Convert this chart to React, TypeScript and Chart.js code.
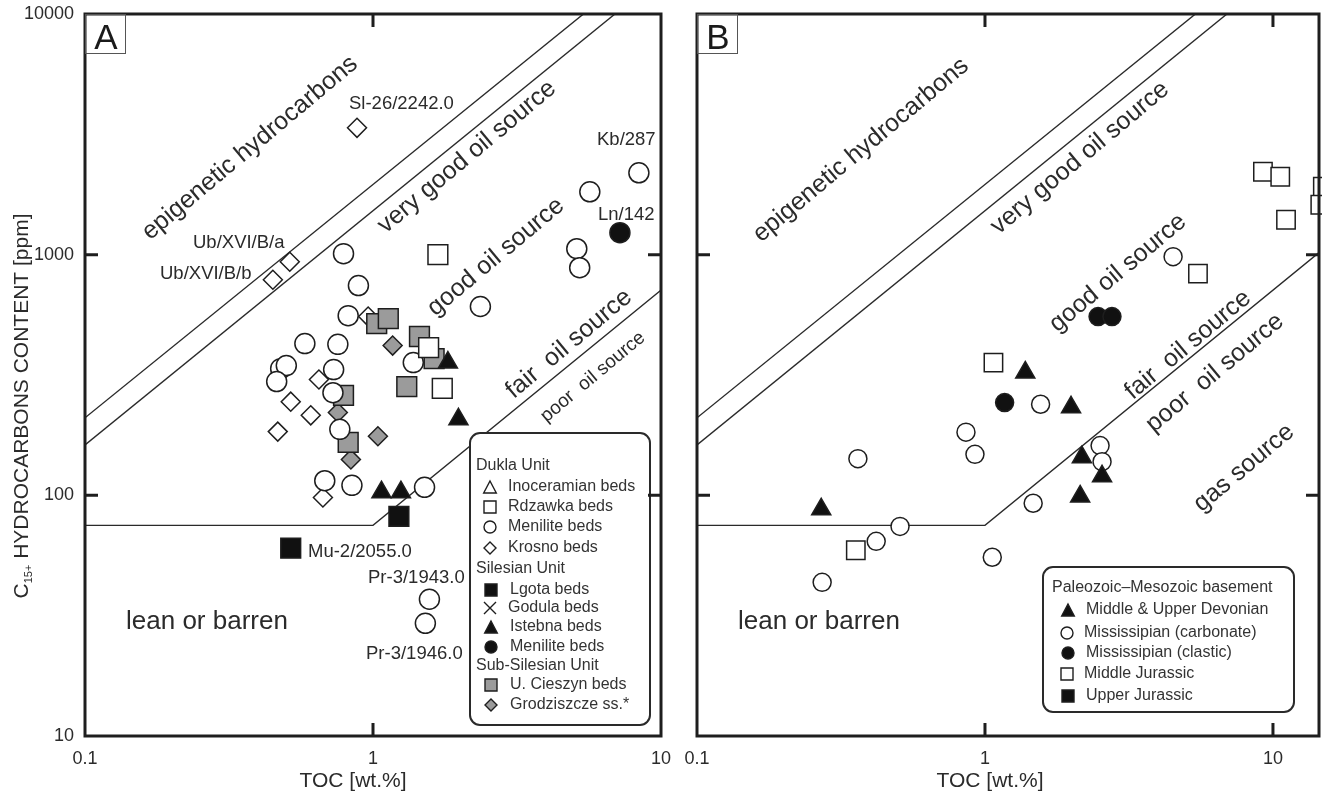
import React, { useEffect, useRef } from 'react';
import { Chart, registerables } from 'chart.js';

Chart.register(...registerables);

const FONT = '"Liberation Sans", Arimo, Arial, Helvetica, sans-serif';
const INK = '#1e1e1e';
const TEXT = '#2b2b2b';
const GRAY = '#9b9b9b';
const BLACK = '#111111';

// ---------- axes ----------
const xTickValues = [0.1, 1, 10];
const xTickLabels = ['0.1', '1', '10'];
const yTickValues = [10, 100, 1000, 10000];
const yTickLabels = ['10', '100', '1000', '10000'];
const xMinTOC = 0.1;
const xMaxTOC_A = 10;
const xMaxTOC_B = 14.45;
const yMinHC = 10;
const yMaxHC = 10000;

// ---------- classification boundaries (TOC wt.%, C15+ ppm) ----------
const epiUpperTOC = [0.1, 5.38];
const epiUpperHC = [210, 10000];
const epiLowerTOC = [0.1, 6.92];
const epiLowerHC = [162, 10000];
const leanTOC = [0.1, 1, 14.45];
const leanHC = [75, 75, 1020];

// ---------- panel A : Dukla / Silesian / Sub-Silesian units ----------
const inoceramianTOC: number[] = [];
const inoceramianHC: number[] = [];
const rdzawkaTOC = [1.68, 1.56, 1.74];
const rdzawkaHC = [1000, 411, 278];
const dMeniliteTOC = [0.79, 0.89, 0.82, 0.58, 0.755, 0.478, 0.50, 0.463, 0.73, 0.726, 0.767, 1.38, 0.68, 0.845, 1.51, 8.38, 5.66, 5.10, 5.22, 2.36, 1.57, 1.52];
const dMeniliteHC = [1010, 744, 558, 427, 424, 336, 346, 297, 333, 267, 188, 356, 115, 110, 108, 2188, 1825, 1059, 883, 609, 37, 29.4];
const krosnoTOC = [0.88, 0.514, 0.449, 0.649, 0.518, 0.608, 0.467, 0.67, 0.962];
const krosnoHC = [3365, 935, 787, 303, 245, 215, 184, 98, 553];
const lgotaTOC = [0.518, 1.23];
const lgotaHC = [60.3, 81.8];
const godulaTOC: number[] = [];
const godulaHC: number[] = [];
const istebnaTOC = [1.82, 1.98, 1.07, 1.25];
const istebnaHC = [356, 207, 103, 103];
const sMeniliteTOC = [7.2];
const sMeniliteHC = [1234];
const cieszynTOC = [1.03, 1.13, 1.45, 1.63, 1.31, 0.79, 0.82];
const cieszynHC = [517, 542, 457, 370, 283, 260, 166];
const grodTOC = [1.17, 0.755, 1.04, 0.838];
const grodHC = [419, 221, 176, 141];

// ---------- panel B : Paleozoic–Mesozoic basement ----------
const devonianTOC = [1.38, 1.99, 2.17, 2.55, 2.14, 0.27];
const devonianHC = [324, 232, 144, 120, 99, 87.5];
const carbonateTOC = [4.5, 1.56, 0.859, 0.923, 0.362, 2.51, 2.55, 1.47, 0.507, 0.419, 0.272, 1.06];
const carbonateHC = [981, 239, 183, 148, 142, 161, 138, 92.7, 74.3, 64.4, 43.5, 55.3];
const clasticTOC = [1.17, 2.47, 2.76];
const clasticHC = [243, 553, 553];
const midJurassicTOC = [9.23, 10.6, 11.1, 14.9, 14.6, 5.49, 1.07, 0.356];
const midJurassicHC = [2210, 2107, 1397, 1915, 1612, 834, 356, 59.1];
const upJurassicTOC: number[] = [];
const upJurassicHC: number[] = [];

// ---------- texts ----------
type Zone = { text: string; x: number; y: number; size: number };
type Flat = { text: string; x: number; y: number; size: number; align?: CanvasTextAlign };
type Sym = 'tri' | 'rect' | 'circle' | 'diamond' | 'cross';
type Row = { text: string; y: number; header?: boolean; sym?: Sym; fill?: string };
type Decor = {
  offsetX: number;
  letter: string;
  zones: Zone[];
  flats: Flat[];
  legendBox: [number, number, number, number];
  legendHeaderX: number;
  legendSymX: number;
  legendTextX: number;
  legendRows: Row[];
  xTitleX: number;
  yTitle: boolean;
};

const decorA: Decor = {
  offsetX: 0,
  letter: 'A',
  zones: [
    { text: 'epigenetic hydrocarbons', x: 250, y: 148, size: 25 },
    { text: 'very good oil source', x: 467, y: 157, size: 25 },
    { text: 'good oil source', x: 496, y: 257, size: 25 },
    { text: 'fair  oil source', x: 569, y: 344, size: 25 },
    { text: 'poor  oil source', x: 593, y: 377, size: 19 },
  ],
  flats: [
    { text: 'lean or barren', x: 126, y: 629, size: 26 },
    { text: 'Sl-26/2242.0', x: 349, y: 109, size: 18.5 },
    { text: 'Kb/287', x: 597, y: 145, size: 18.5 },
    { text: 'Ln/142', x: 598, y: 220, size: 18.5 },
    { text: 'Ub/XVI/B/a', x: 193, y: 248, size: 18.5 },
    { text: 'Ub/XVI/B/b', x: 160, y: 279, size: 18.5 },
    { text: 'Mu-2/2055.0', x: 308, y: 557, size: 18.5 },
    { text: 'Pr-3/1943.0', x: 368, y: 583, size: 18.5 },
    { text: 'Pr-3/1946.0', x: 366, y: 659, size: 18.5 },
  ],
  legendBox: [470, 433, 650, 725],
  legendHeaderX: 476,
  legendSymX: 490,
  legendTextX: 508,
  legendRows: [
    { text: 'Dukla Unit', y: 466, header: true },
    { text: 'Inoceramian beds', y: 487, sym: 'tri', fill: '#fff' },
    { text: 'Rdzawka beds', y: 507, sym: 'rect', fill: '#fff' },
    { text: 'Menilite beds', y: 527, sym: 'circle', fill: '#fff' },
    { text: 'Krosno beds', y: 548, sym: 'diamond', fill: '#fff' },
    { text: 'Silesian Unit', y: 569, header: true },
    { text: 'Lgota beds', y: 590, sym: 'rect', fill: BLACK },
    { text: 'Godula beds', y: 608, sym: 'cross', fill: '#fff' },
    { text: 'Istebna beds', y: 627, sym: 'tri', fill: BLACK },
    { text: 'Menilite beds', y: 647, sym: 'circle', fill: BLACK },
    { text: 'Sub-Silesian Unit', y: 666, header: true },
    { text: 'U. Cieszyn beds', y: 685, sym: 'rect', fill: GRAY },
    { text: 'Grodziszcze ss.*', y: 705, sym: 'diamond', fill: GRAY },
  ],
  xTitleX: 353,
  yTitle: true,
};

const decorB: Decor = {
  offsetX: 680,
  letter: 'B',
  zones: [
    { text: 'epigenetic hydrocarbons', x: 861, y: 150, size: 25 },
    { text: 'very good oil source', x: 1080, y: 158, size: 25 },
    { text: 'good oil source', x: 1118, y: 273, size: 25 },
    { text: 'fair  oil source', x: 1188, y: 345, size: 25 },
    { text: 'poor  oil source', x: 1215, y: 373, size: 25 },
    { text: 'gas source', x: 1244, y: 468, size: 25 },
  ],
  flats: [{ text: 'lean or barren', x: 738, y: 629, size: 26 }],
  legendBox: [1043, 567, 1294, 712],
  legendHeaderX: 1052,
  legendSymX: 1067,
  legendTextX: 1084,
  legendRows: [
    { text: 'Paleozoic\u2013Mesozoic basement', y: 588, header: true },
    { text: 'Middle & Upper Devonian', y: 610, sym: 'tri', fill: BLACK },
    { text: 'Mississipian (carbonate)', y: 633, sym: 'circle', fill: '#fff' },
    { text: 'Mississipian (clastic)', y: 653, sym: 'circle', fill: BLACK },
    { text: 'Middle Jurassic', y: 674, sym: 'rect', fill: '#fff' },
    { text: 'Upper Jurassic', y: 696, sym: 'rect', fill: BLACK },
  ],
  xTitleX: 990,
  yTitle: false,
};

// ---------- helpers ----------
function pts(xs: number[], ys: number[]) {
  return xs.map((x, i) => ({ x, y: ys[i] }));
}

function pointSet(label: string, xs: number[], ys: number[], style: string, r: number, fill: string, order: number, extra: any = {}) {
  return {
    type: 'scatter',
    label,
    data: pts(xs, ys),
    pointStyle: style,
    pointRadius: r,
    pointHoverRadius: r,
    pointBackgroundColor: fill,
    pointBorderColor: INK,
    pointBorderWidth: 1.5,
    showLine: false,
    order,
    ...extra,
  };
}

function lineSet(label: string, xs: number[], ys: number[]) {
  return {
    type: 'line',
    label,
    data: pts(xs, ys),
    borderColor: '#2a2a2a',
    borderWidth: 1.4,
    pointRadius: 0,
    pointHoverRadius: 0,
    fill: false,
    tension: 0,
    order: 50,
  };
}

function tickLabel(list: number[], labels: string[], v: any) {
  const n = Number(v);
  const i = list.findIndex((t) => Math.abs(Math.log10(t) - Math.log10(n)) < 1e-6);
  return i >= 0 ? labels[i] : '';
}

function scalesFor(xMax: number, yWidth: number, showYLabels: boolean) {
  return {
    x: {
      type: 'logarithmic',
      position: 'bottom',
      min: xMinTOC,
      max: xMax,
      afterBuildTicks: (s: any) => {
        s.ticks = xTickValues.filter((v) => v <= xMax + 1e-9).map((v) => ({ value: v }));
      },
      afterFit: (s: any) => {
        s.height = 55;
      },
      grid: { display: false },
      border: { display: false },
      ticks: {
        autoSkip: false,
        maxRotation: 0,
        minRotation: 0,
        padding: 4,
        color: TEXT,
        font: { family: FONT, size: 18 },
        callback: (v: any) => tickLabel(xTickValues, xTickLabels, v),
      },
    },
    y: {
      type: 'logarithmic',
      position: 'left',
      min: yMinHC,
      max: yMaxHC,
      afterBuildTicks: (s: any) => {
        s.ticks = yTickValues.map((v) => ({ value: v }));
      },
      afterFit: (s: any) => {
        s.width = yWidth;
      },
      grid: { display: false },
      border: { display: false },
      ticks: {
        display: showYLabels,
        autoSkip: false,
        padding: 3,
        color: TEXT,
        font: { family: FONT, size: 18 },
        callback: (v: any) => tickLabel(yTickValues, yTickLabels, v),
      },
    },
  };
}

function drawSym(ctx: CanvasRenderingContext2D, sym: Sym, fill: string, x: number, y: number, s: number) {
  ctx.save();
  ctx.lineWidth = 1.4;
  ctx.strokeStyle = INK;
  ctx.fillStyle = fill;
  ctx.beginPath();
  const h = s / 2;
  if (sym === 'tri') {
    ctx.moveTo(x, y - h);
    ctx.lineTo(x + h * 1.05, y + h);
    ctx.lineTo(x - h * 1.05, y + h);
    ctx.closePath();
  } else if (sym === 'rect') {
    ctx.rect(x - h, y - h, s, s);
  } else if (sym === 'circle') {
    ctx.arc(x, y, h, 0, Math.PI * 2);
  } else if (sym === 'diamond') {
    ctx.moveTo(x, y - h);
    ctx.lineTo(x + h, y);
    ctx.lineTo(x, y + h);
    ctx.lineTo(x - h, y);
    ctx.closePath();
  }
  if (sym === 'cross') {
    ctx.moveTo(x - h, y - h);
    ctx.lineTo(x + h, y + h);
    ctx.moveTo(x + h, y - h);
    ctx.lineTo(x - h, y + h);
    ctx.stroke();
  } else {
    ctx.fill();
    ctx.stroke();
  }
  ctx.restore();
}

function roundRectPath(ctx: CanvasRenderingContext2D, x1: number, y1: number, x2: number, y2: number, r: number) {
  ctx.beginPath();
  ctx.moveTo(x1 + r, y1);
  ctx.lineTo(x2 - r, y1);
  ctx.arcTo(x2, y1, x2, y1 + r, r);
  ctx.lineTo(x2, y2 - r);
  ctx.arcTo(x2, y2, x2 - r, y2, r);
  ctx.lineTo(x1 + r, y2);
  ctx.arcTo(x1, y2, x1, y2 - r, r);
  ctx.lineTo(x1, y1 + r);
  ctx.arcTo(x1, y1, x1 + r, y1, r);
  ctx.closePath();
}

function decorPlugin(d: Decor) {
  return {
    id: 'decor' + d.letter,
    afterDatasetsDraw(chart: any) {
      const ctx: CanvasRenderingContext2D = chart.ctx;
      const area = chart.chartArea;
      const xs = chart.scales.x;
      const ys = chart.scales.y;
      const ox = d.offsetX;
      ctx.save();
      ctx.fillStyle = TEXT;

      // rotated zone labels, parallel to the iso-ratio lines
      const ang = Math.atan2(
        ys.getPixelForValue(10) - ys.getPixelForValue(100),
        xs.getPixelForValue(1) - xs.getPixelForValue(0.1)
      );
      for (const z of d.zones) {
        ctx.save();
        ctx.font = `${z.size}px ${FONT}`;
        ctx.translate(z.x - ox, z.y);
        ctx.rotate(-ang);
        ctx.textAlign = 'center';
        ctx.textBaseline = 'middle';
        ctx.fillText(z.text, 0, 0);
        ctx.restore();
      }

      // flat labels
      for (const f of d.flats) {
        ctx.font = `${f.size}px ${FONT}`;
        ctx.textAlign = f.align || 'left';
        ctx.textBaseline = 'alphabetic';
        ctx.fillText(f.text, f.x - ox, f.y);
      }

      // legend
      const [bx1, by1, bx2, by2] = d.legendBox;
      roundRectPath(ctx, bx1 - ox, by1, bx2 - ox, by2, 10);
      ctx.fillStyle = '#ffffff';
      ctx.fill();
      ctx.lineWidth = 2;
      ctx.strokeStyle = '#2a2a2a';
      ctx.stroke();
      ctx.fillStyle = '#333';
      ctx.textBaseline = 'middle';
      ctx.textAlign = 'left';
      ctx.font = `16px ${FONT}`;
      for (const r of d.legendRows) {
        if (r.header) {
          ctx.fillText(r.text, d.legendHeaderX - ox, r.y);
        } else {
          const sx = d.legendSymX - ox + (r.fill === '#fff' ? 0 : 1);
          drawSym(ctx, r.sym as Sym, r.fill || '#fff', sx, r.y, 12);
          ctx.fillStyle = '#333';
          ctx.fillText(r.text, d.legendTextX - ox + (r.fill === '#fff' ? 0 : 2), r.y);
        }
      }

      // frame
      ctx.lineWidth = 3;
      ctx.strokeStyle = INK;
      ctx.strokeRect(area.left, area.top, area.right - area.left, area.bottom - area.top);

      // inward tick marks
      const tl = 13;
      ctx.beginPath();
      for (const v of yTickValues) {
        if (v <= yMinHC || v >= yMaxHC) continue;
        const py = ys.getPixelForValue(v);
        ctx.moveTo(area.left, py);
        ctx.lineTo(area.left + tl, py);
        ctx.moveTo(area.right, py);
        ctx.lineTo(area.right - tl, py);
      }
      for (const v of xTickValues) {
        if (v <= xs.min * 1.0001 || v >= xs.max * 0.9999) continue;
        const px = xs.getPixelForValue(v);
        ctx.moveTo(px, area.bottom);
        ctx.lineTo(px, area.bottom - tl);
        ctx.moveTo(px, area.top);
        ctx.lineTo(px, area.top + tl);
      }
      ctx.stroke();

      // panel letter
      ctx.lineWidth = 1;
      ctx.strokeStyle = '#555';
      ctx.strokeRect(area.left + 0.5, area.top + 0.5, 40, 39);
      ctx.fillStyle = '#1a1a1a';
      ctx.font = `35px ${FONT}`;
      ctx.textAlign = 'center';
      ctx.textBaseline = 'alphabetic';
      ctx.fillText(d.letter, area.left + 21, area.top + 35);

      // x title
      ctx.fillStyle = TEXT;
      ctx.font = `21px ${FONT}`;
      ctx.textAlign = 'center';
      ctx.fillText('TOC [wt.%]', d.xTitleX - ox, 787);

      // y title with subscript
      if (d.yTitle) {
        ctx.save();
        ctx.translate(0, 406);
        ctx.rotate(-Math.PI / 2);
        const big = `21px ${FONT}`;
        const small = `11px ${FONT}`;
        ctx.font = big;
        const w1 = ctx.measureText('C').width;
        const rest = ' HYDROCARBONS CONTENT [ppm]';
        const w3 = ctx.measureText(rest).width;
        ctx.font = small;
        const w2 = ctx.measureText('15+').width;
        let x = -(w1 + w2 + w3) / 2;
        ctx.textAlign = 'left';
        ctx.font = big;
        ctx.fillText('C', x, 28);
        x += w1;
        ctx.font = small;
        ctx.fillText('15+', x, 32);
        x += w2;
        ctx.font = big;
        ctx.fillText(rest, x, 28);
        ctx.restore();
      }
      ctx.restore();
    },
  };
}

function baseOptions(xMax: number, yWidth: number, showY: boolean, rightPad: number) {
  return {
    responsive: false,
    animation: false,
    devicePixelRatio: 1,
    events: [],
    layout: { autoPadding: false, padding: { left: 0, top: 14, right: rightPad, bottom: 0 } },
    plugins: { legend: { display: false }, tooltip: { enabled: false } },
    scales: scalesFor(xMax, yWidth, showY),
  };
}

function buildA(): any {
  return {
    type: 'scatter',
    data: {
      datasets: [
        pointSet('Rdzawka beds', rdzawkaTOC, rdzawkaHC, 'rect', 14, '#fff', 1),
        pointSet('Inoceramian beds', inoceramianTOC, inoceramianHC, 'triangle', 11, '#fff', 1),
        pointSet('Menilite beds (Dukla)', dMeniliteTOC, dMeniliteHC, 'circle', 10, '#fff', 2),
        pointSet('Istebna beds', istebnaTOC, istebnaHC, 'triangle', 11, BLACK, 3),
        pointSet('Lgota beds', lgotaTOC, lgotaHC, 'rect', 14, BLACK, 4),
        pointSet('Godula beds', godulaTOC, godulaHC, 'crossRot', 9, '#fff', 4),
        pointSet('Menilite beds (Silesian)', sMeniliteTOC, sMeniliteHC, 'circle', 10, BLACK, 5),
        pointSet('U. Cieszyn beds', cieszynTOC, cieszynHC, 'rect', 14, GRAY, 6),
        pointSet('Grodziszcze ss.*', grodTOC, grodHC, 'rectRot', 9.5, GRAY, 7),
        pointSet('Krosno beds', krosnoTOC, krosnoHC, 'rectRot', 9.5, '#fff', 8),
        lineSet('epigenetic / very good', epiUpperTOC, epiUpperHC),
        lineSet('very good / good', epiLowerTOC, epiLowerHC),
        lineSet('fair / poor', leanTOC, leanHC),
      ],
    },
    options: baseOptions(xMaxTOC_A, 85, true, 19),
    plugins: [decorPlugin(decorA)],
  };
}

function buildB(): any {
  return {
    type: 'scatter',
    data: {
      datasets: [
        pointSet('Middle Jurassic', midJurassicTOC, midJurassicHC, 'rect', 13, '#fff', 1, { clip: false }),
        pointSet('Upper Jurassic', upJurassicTOC, upJurassicHC, 'rect', 13, BLACK, 1),
        pointSet('Middle & Upper Devonian', devonianTOC, devonianHC, 'triangle', 11, BLACK, 2),
        pointSet('Mississipian (carbonate)', carbonateTOC, carbonateHC, 'circle', 9, '#fff', 3),
        pointSet('Mississipian (clastic)', clasticTOC, clasticHC, 'circle', 9, BLACK, 4),
        lineSet('epigenetic / very good', epiUpperTOC, epiUpperHC),
        lineSet('very good / good', epiLowerTOC, epiLowerHC),
        lineSet('fair / poor', leanTOC, leanHC),
      ],
    },
    options: baseOptions(xMaxTOC_B, 17, false, 3),
    plugins: [decorPlugin(decorB)],
  };
}

function Panel({ build, left, width }: { build: () => any; left: number; width: number }) {
  const ref = useRef<HTMLCanvasElement>(null);
  useEffect(() => {
    const chart = new Chart(ref.current as HTMLCanvasElement, build());
    return () => chart.destroy();
  }, []);
  return (
    <canvas
      ref={ref}
      width={width}
      height={791}
      style={{ position: 'absolute', left, top: 0, width, height: 791, display: 'block' }}
    />
  );
}

export default function App() {
  return (
    <div style={{ position: 'fixed', left: 0, top: 0, width: 1322, height: 791, background: '#fff', overflow: 'hidden' }}>
      <Panel build={buildA} left={0} width={680} />
      <Panel build={buildB} left={680} width={642} />
    </div>
  );
}
